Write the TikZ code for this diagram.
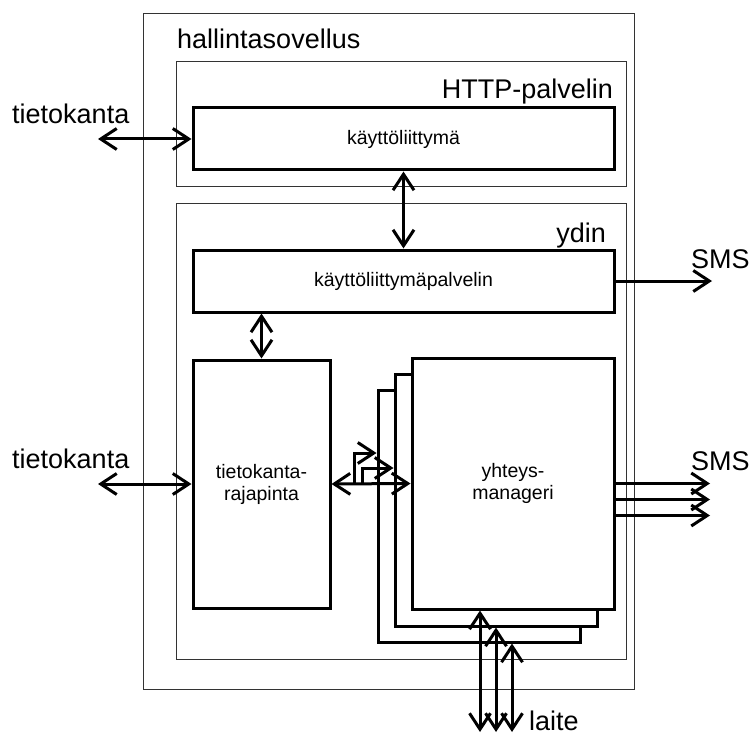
\documentclass[tikz,border=0pt]{standalone}
\usepackage{fontspec}
\setmainfont{Liberation Sans}
\usetikzlibrary{arrows.meta}
\begin{document}
\begin{tikzpicture}[x=1pt,y=-1pt,
  big/.style={font=\fontsize{27}{32}\selectfont, inner sep=0pt},
  frame/.style={draw=black!80, line width=1pt, inner sep=0pt},
  box/.style={draw, line width=3pt, fill=white, inner sep=0pt, align=center,
    font=\fontsize{19.5}{22}\selectfont},
  barb/.tip={Straight Barb[length=16pt,width=21pt]},
  both/.style={line width=3pt, barb-barb},
  ahead/.style={line width=3pt, -barb}]
\useasboundingbox (0,0) rectangle (754,735);

% application frame and its two parts
\node[frame, minimum width=491pt, minimum height=675pt] (app) at (388.5,351.5) {};
\node[frame, minimum width=450pt, minimum height=125pt] (http) at (401,124.5) {};
\node[frame, minimum width=450pt, minimum height=455pt] (core) at (401,431.5) {};

\node[big, anchor=base west] (lapp) at (177,49) {hallintasovellus};
\node[big, anchor=base east] (lhttp) at (613,99) {HTTP-palvelin};
\node[big, anchor=base east] (lcore) at (606,243) {ydin};

% components
\node[box, minimum width=421pt, minimum height=62pt] (ui) at (403.5,139) {käyttöliittymä};
\node[box, minimum width=421pt, minimum height=62pt] (uis) at (403.5,281) {käyttöliittymäpalvelin};
\node[box, minimum width=137pt, minimum height=248pt] (dbi) at (261.5,484) {tietokanta-\\rajapinta};

% stack of connection managers
\node[box, minimum width=202pt, minimum height=252pt] (cm3) at (479,516) {};
\node[box, minimum width=202pt, minimum height=252pt] (cm2) at (496,500) {};
\node[box, minimum width=202pt, minimum height=251pt] (cm1) at (513,483.5) {yhteys-\\manageri};

% external labels
\node[big, anchor=base west] (db1) at (12,124) {tietokanta};
\node[big, anchor=base west] (db2) at (12,468) {tietokanta};
\node[big, anchor=base west] (sms1) at (691,268) {SMS};
\node[big, anchor=base west] (sms2) at (691,470) {SMS};
\node[big, anchor=base west] (dev) at (529,730) {laite};

\coordinate (e1) at (98,139);
\coordinate (e2) at (98,484);
\coordinate (s1) at (712,281);
\coordinate (s2) at (710,483.5);
\coordinate (j1) at (354,483.5);
\coordinate (j2) at (362,483.5);
\coordinate (h1) at (0,453);
\coordinate (h2) at (0,468);
\coordinate (d1) at (480,732);
\coordinate (d2) at (496,732);
\coordinate (d3) at (512,732);

% connectors
\draw[both] (e1) -- (ui.west);
\draw[both] (ui.south) -- (uis.north);
\draw[both] (dbi.north |- uis.south) -- (dbi.north);
\draw[ahead] (uis.east) -- (s1);
\draw[both] (e2) -- (dbi.west);
\draw[both] (dbi.east) -- (cm1.west);
\draw[ahead] (j1) |- (cm3.west |- h1);
\draw[ahead] (j2) |- (cm2.west |- h2);
\draw[ahead] (cm1.east) -- (s2);
\draw[ahead] ([yshift=-16pt]cm1.east) -- ([yshift=-16pt]s2);
\draw[ahead] ([yshift=-32pt]cm1.east) -- ([yshift=-32pt]s2);
\draw[both] (d1) -- (d1 |- cm1.south);
\draw[both] (d2) -- (d2 |- cm2.south);
\draw[both] (d3) -- (d3 |- cm3.south);
\end{tikzpicture}
\end{document}
